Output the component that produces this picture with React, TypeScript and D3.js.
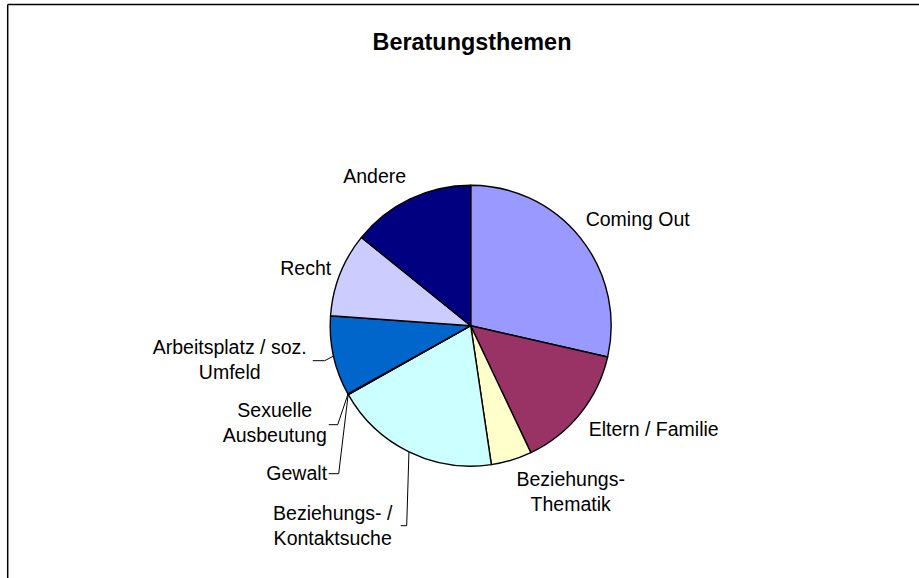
import React from "react";
import * as d3 from "d3";

const categories = [
  "Coming Out",
  "Eltern / Familie",
  "Beziehungs-Thematik",
  "Beziehungs- / Kontaktsuche",
  "Gewalt",
  "Sexuelle Ausbeutung",
  "Arbeitsplatz / soz. Umfeld",
  "Recht",
  "Andere",
];
const values = [28.6, 14.4, 4.7, 19.2, 0.05, 0.05, 9.2, 9.7, 14.2];
const labelLines = [
  ["Coming Out"],
  ["Eltern / Familie"],
  ["Beziehungs-", "Thematik"],
  ["Beziehungs- /", "Kontaktsuche"],
  ["Gewalt"],
  ["Sexuelle", "Ausbeutung"],
  ["Arbeitsplatz / soz.", "Umfeld"],
  ["Recht"],
  ["Andere"],
];
const colors = [
  "#9999FF",
  "#993366",
  "#FFFFCC",
  "#CCFFFF",
  "#660066",
  "#FF8080",
  "#0066CC",
  "#CCCCFF",
  "#000080",
];
const title = "Beratungsthemen";

// layout: label centre x, first baseline y (relative to pie centre), optional leader elbow
type LabelLayout = { dx: number; dy: number; leader?: { x0: number; x1: number; y: number } };
const labelLayout: LabelLayout[] = [
  { dx: 167, dy: -100 },
  { dx: 183, dy: 110 },
  { dx: 100, dy: 160 },
  { dx: -138, dy: 194, leader: { x0: -70, x1: -64, y: 200 } },
  { dx: -174, dy: 154, leader: { x0: -142, x1: -132, y: 148 } },
  { dx: -196, dy: 91, leader: { x0: -142, x1: -133, y: 99 } },
  { dx: -241, dy: 28, leader: { x0: -158, x1: -146, y: 35 } },
  { dx: -165, dy: -51 },
  { dx: -96, dy: -143 },
];

const W = 919;
const H = 578;
const cx = 470.7;
const cy = 325.7;
const R = 140.5;
const FONT = "'Liberation Sans', Arial, sans-serif";

export default function App() {
  const pie = d3
    .pie<number>()
    .sort(null)
    .value((d) => d)
    .startAngle(0)
    .endAngle(2 * Math.PI);
  const arcs = pie(values);
  const arcGen = d3.arc<d3.PieArcDatum<number>>().innerRadius(0).outerRadius(R);

  return (
    <>
      <style>{`body{margin:0}`}</style>
      <svg width={W} height={H} style={{ display: "block", background: "#fff" }}>
        <line x1={7.7} y1={4.5} x2={W} y2={4.5} stroke="#000" strokeWidth={1.5} />
        <line x1={7.7} y1={4.5} x2={7.7} y2={H} stroke="#000" strokeWidth={1.5} />
        <text
          x={472}
          y={50}
          textAnchor="middle"
          fontFamily={FONT}
          fontWeight="bold"
          fontSize={23.4}
          fill="#000"
        >
          {title}
        </text>
        <g transform={`translate(${cx},${cy})`}>
          {arcs.map((a, i) => (
            <path
              key={categories[i]}
              d={arcGen(a) || ""}
              fill={colors[i]}
              stroke="#000"
              strokeWidth={1.4}
              strokeLinejoin="round"
            />
          ))}
          {arcs.map((a, i) => {
            const L = labelLayout[i];
            if (!L.leader) return null;
            const mid = (a.startAngle + a.endAngle) / 2;
            const px = R * Math.sin(mid);
            const py = -R * Math.cos(mid);
            return (
              <polyline
                key={"l" + i}
                points={`${L.leader.x0},${L.leader.y} ${L.leader.x1},${L.leader.y} ${px},${py}`}
                fill="none"
                stroke="#000"
                strokeWidth={1}
              />
            );
          })}
          {labelLines.map((lines, i) => {
            const L = labelLayout[i];
            return (
              <text
                key={"t" + i}
                x={L.dx}
                y={L.dy}
                textAnchor="middle"
                fontFamily={FONT}
                fontSize={19.5}
                fill="#000"
              >
                {lines.map((ln, j) => (
                  <tspan key={j} x={L.dx} dy={j === 0 ? 0 : 25.5}>
                    {ln}
                  </tspan>
                ))}
              </text>
            );
          })}
        </g>
      </svg>
    </>
  );
}
